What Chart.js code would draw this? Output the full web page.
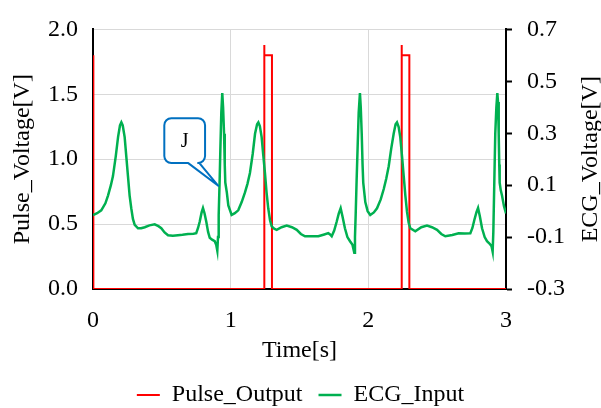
<!DOCTYPE html>
<html>
<head>
<meta charset="utf-8">
<script src="https://cdn.jsdelivr.net/npm/chart.js@4.4.0/dist/chart.umd.min.js"></script>
<style>
  html, body { margin: 0; padding: 0; background: #fff; }
  #wrap { width: 601px; height: 408px; }
</style>
</head>
<body>
<div id="wrap"><canvas id="ecgChart" width="601" height="408"></canvas></div>
<script>
// Pulse output (left axis, V) - square pulses with a small spike on the rising edge
const pulseTime  = [0, 0, 0.004, 0.004, 1.244, 1.244, 1.245, 1.300, 1.300, 2.242, 2.242, 2.243, 2.298, 2.298, 3.0];
const pulseValue = [0, 1.8, 1.8, 0, 0, 1.88, 1.8, 1.8, 0, 0, 1.88, 1.8, 1.8, 0, 0];

// ECG input (right axis, V)
const ecgTime = [
  0.000, 0.030, 0.060, 0.090, 0.109, 0.130, 0.145, 0.165, 0.182, 0.196, 0.206, 0.216, 0.230, 0.242, 0.254, 0.266,
  0.278, 0.290, 0.303, 0.327, 0.350, 0.376, 0.410, 0.448, 0.475, 0.496, 0.520, 0.545, 0.580, 0.617, 0.650, 0.690,
  0.730, 0.750, 0.763, 0.775, 0.789, 0.799, 0.810, 0.823, 0.836, 0.848, 0.865, 0.884, 0.895, 0.903, 0.908, 0.913,
  0.920, 0.925, 0.932, 0.939, 0.945, 0.952, 0.957, 0.961, 0.972, 0.983, 1.007,
  1.030, 1.055, 1.080, 1.104, 1.122, 1.140, 1.160, 1.177, 1.192, 1.201, 1.212, 1.225, 1.237, 1.249, 1.261, 1.273,
  1.286, 1.298, 1.316, 1.334, 1.370, 1.407, 1.445, 1.480, 1.510, 1.540, 1.590, 1.637, 1.680, 1.709, 1.722, 1.734,
  1.752, 1.770, 1.785, 1.799, 1.812, 1.830, 1.848, 1.867, 1.885, 1.898, 1.903, 1.908, 1.915, 1.923, 1.930, 1.939,
  1.945, 1.952, 1.958, 1.963, 1.978, 1.995, 2.014,
  2.040, 2.063, 2.090, 2.112, 2.130, 2.148, 2.166, 2.184, 2.198, 2.208, 2.220, 2.232, 2.245, 2.257, 2.269, 2.281,
  2.293, 2.305, 2.341, 2.385, 2.426, 2.462, 2.499, 2.530, 2.559, 2.610, 2.656, 2.700, 2.741, 2.756, 2.770, 2.785,
  2.797, 2.810, 2.826, 2.845, 2.862, 2.880, 2.895, 2.903, 2.908, 2.915, 2.922, 2.930, 2.937, 2.942, 2.947, 2.951,
  2.954, 2.962, 2.971, 2.985, 3.000
];
const ecgValue = [
  -0.015, -0.008, 0.003, 0.030, 0.060, 0.100, 0.135, 0.210, 0.285, 0.330, 0.342, 0.330, 0.285, 0.210, 0.135, 0.060,
  0.011, -0.030, -0.053, -0.066, -0.066, -0.062, -0.055, -0.051, -0.058, -0.066, -0.082, -0.093, -0.095, -0.093, -0.091, -0.088,
  -0.087, -0.085, -0.065, -0.041, -0.005, 0.012, -0.008, -0.041, -0.080, -0.103, -0.110, -0.116, -0.130, -0.153, -0.100, -0.015,
  0.120, 0.235, 0.380, 0.455, 0.400, 0.298, 0.180, 0.110, 0.072, 0.022, -0.015,
  -0.008, 0.003, 0.035, 0.072, 0.105, 0.147, 0.220, 0.298, 0.335, 0.342, 0.328, 0.285, 0.215, 0.147, 0.070, 0.011,
  -0.035, -0.059, -0.068, -0.072, -0.062, -0.056, -0.062, -0.072, -0.088, -0.097, -0.097, -0.097, -0.090, -0.085, -0.090, -0.097,
  -0.075, -0.041, -0.010, 0.011, -0.020, -0.066, -0.100, -0.116, -0.130, -0.160, -0.100, -0.015, 0.120, 0.260, 0.380, 0.455,
  0.400, 0.298, 0.180, 0.110, 0.035, 0.000, -0.015,
  -0.005, 0.011, 0.045, 0.085, 0.125, 0.173, 0.240, 0.298, 0.335, 0.342, 0.325, 0.285, 0.210, 0.135, 0.060, -0.003,
  -0.045, -0.066, -0.078, -0.062, -0.056, -0.062, -0.072, -0.088, -0.097, -0.092, -0.085, -0.086, -0.085, -0.065, -0.034, -0.005,
  0.012, -0.020, -0.066, -0.100, -0.116, -0.125, -0.135, -0.156, -0.080, 0.110, 0.298, 0.400, 0.455, 0.420, 0.298, 0.180,
  0.110, 0.080, 0.060, 0.020, -0.009
];

// Tick labels
const timeTicks = [0, 1, 2, 3];
const pulseTicks = [0, 0.5, 1.0, 1.5, 2.0];
const ecgTicks = [-0.3, -0.1, 0.1, 0.3, 0.5, 0.7];

// "J" callout, in data units (time / pulse axis)
const callout = { text: 'J', left: 0.518, right: 0.814, top: 1.316, bottom: 0.970,
                  tailFrom: 0.692, tailTo: 0.773, tipX: 0.910, tipY: 0.795 };

const serif = '"Liberation Serif", "Times New Roman", serif';
Chart.defaults.font.family = serif;
Chart.defaults.font.size = 24;
Chart.defaults.color = '#000';

const toPoints = (xs, ys) => xs.map((t, i) => ({ x: t, y: ys[i] }));
const setTicks = list => scale => { scale.ticks = list.map(v => ({ value: v })); };

// Draws the rounded speech-bubble with its pointer
const calloutPlugin = {
  id: 'callout',
  afterDatasetsDraw(chart) {
    const { ctx, scales: { x, y } } = chart;
    const L = x.getPixelForValue(callout.left), R = x.getPixelForValue(callout.right);
    const T = y.getPixelForValue(callout.top), B = y.getPixelForValue(callout.bottom);
    const b1 = x.getPixelForValue(callout.tailFrom), b2 = x.getPixelForValue(callout.tailTo);
    const tx = x.getPixelForValue(callout.tipX), ty = y.getPixelForValue(callout.tipY);
    const r = 7;
    ctx.save();
    ctx.beginPath();
    ctx.moveTo(L + r, T);
    ctx.lineTo(R - r, T);
    ctx.arcTo(R, T, R, T + r, r);
    ctx.lineTo(R, B - r);
    ctx.arcTo(R, B, R - r, B, r);
    ctx.lineTo(b2, B);
    ctx.lineTo(tx, ty);
    ctx.lineTo(b1, B);
    ctx.lineTo(L + r, B);
    ctx.arcTo(L, B, L, B - r, r);
    ctx.lineTo(L, T + r);
    ctx.arcTo(L, T, L + r, T, r);
    ctx.closePath();
    ctx.fillStyle = '#fff';
    ctx.fill();
    ctx.strokeStyle = '#0070c0';
    ctx.lineWidth = 2;
    ctx.lineJoin = 'round';
    ctx.stroke();
    ctx.fillStyle = '#000';
    ctx.font = '20px ' + serif;
    ctx.textAlign = 'center';
    ctx.textBaseline = 'middle';
    ctx.fillText(callout.text, (L + R) / 2, (T + B) / 2 + 1);
    ctx.restore();
  }
};

// Right axis title reads bottom-to-top like the left one
const rightTitlePlugin = {
  id: 'rightTitle',
  afterDraw(chart) {
    const { ctx, chartArea } = chart;
    ctx.save();
    ctx.translate(chart.scales.y2.right - 10, (chartArea.top + chartArea.bottom) / 2);
    ctx.rotate(-Math.PI / 2);
    ctx.font = '24px ' + serif;
    ctx.fillStyle = '#000';
    ctx.textAlign = 'center';
    ctx.textBaseline = 'middle';
    ctx.fillText('ECG_Voltage[V]', 0, 0);
    ctx.restore();
  }
};

new Chart(document.getElementById('ecgChart'), {
  type: 'line',
  data: {
    datasets: [
      {
        label: 'Pulse_Output',
        data: toPoints(pulseTime, pulseValue),
        yAxisID: 'y',
        borderColor: '#ff0000',
        borderWidth: 2,
        pointRadius: 0,
        pointStyle: 'line',
        tension: 0,
        order: 1
      },
      {
        label: 'ECG_Input',
        data: toPoints(ecgTime, ecgValue),
        yAxisID: 'y2',
        borderColor: '#00b050',
        borderWidth: 2.5,
        pointRadius: 0,
        pointStyle: 'line',
        tension: 0,
        order: 0
      }
    ]
  },
  options: {
    responsive: false,
    animation: false,
    layout: { padding: { top: 23, left: 0, right: 0, bottom: -9 } },
    scales: {
      x: {
        type: 'linear',
        min: 0,
        max: 3,
        afterBuildTicks: setTicks(timeTicks),
        afterFit: s => { s.height = 78; },
        ticks: { padding: 17, callback: v => String(v), maxRotation: 0 },
        grid: { color: '#d9d9d9', drawTicks: false },
        border: { color: '#000', width: 2 },
        title: { display: true, text: 'Time[s]', padding: { top: 0, bottom: 2 } }
      },
      y: {
        position: 'left',
        min: 0,
        max: 2,
        afterBuildTicks: setTicks(pulseTicks),
        afterFit: s => { s.width = 93; },
        ticks: { padding: 15, callback: v => v.toFixed(1) },
        grid: { color: '#d9d9d9', drawTicks: false },
        border: { color: '#000', width: 2 },
        title: { display: true, text: 'Pulse_Voltage[V]', padding: { top: 8, bottom: 0 } }
      },
      y2: {
        position: 'right',
        min: -0.3,
        max: 0.7,
        afterBuildTicks: setTicks(ecgTicks),
        afterFit: s => { s.width = 95; },
        ticks: { padding: 15, callback: v => v.toFixed(1) },
        grid: { drawOnChartArea: false, tickLength: 6, tickColor: '#000', tickWidth: 2 },
        border: { color: '#000', width: 2 }
      }
    },
    plugins: {
      legend: {
        position: 'bottom',
        labels: {
          usePointStyle: true,
          pointStyle: 'line',
          pointStyleWidth: 23,
          padding: 16,
          font: { size: 24 },
          sort: (a, b) => a.datasetIndex - b.datasetIndex
        }
      },
      tooltip: { enabled: false }
    }
  },
  plugins: [calloutPlugin, rightTitlePlugin]
});
</script>
</body>
</html>
